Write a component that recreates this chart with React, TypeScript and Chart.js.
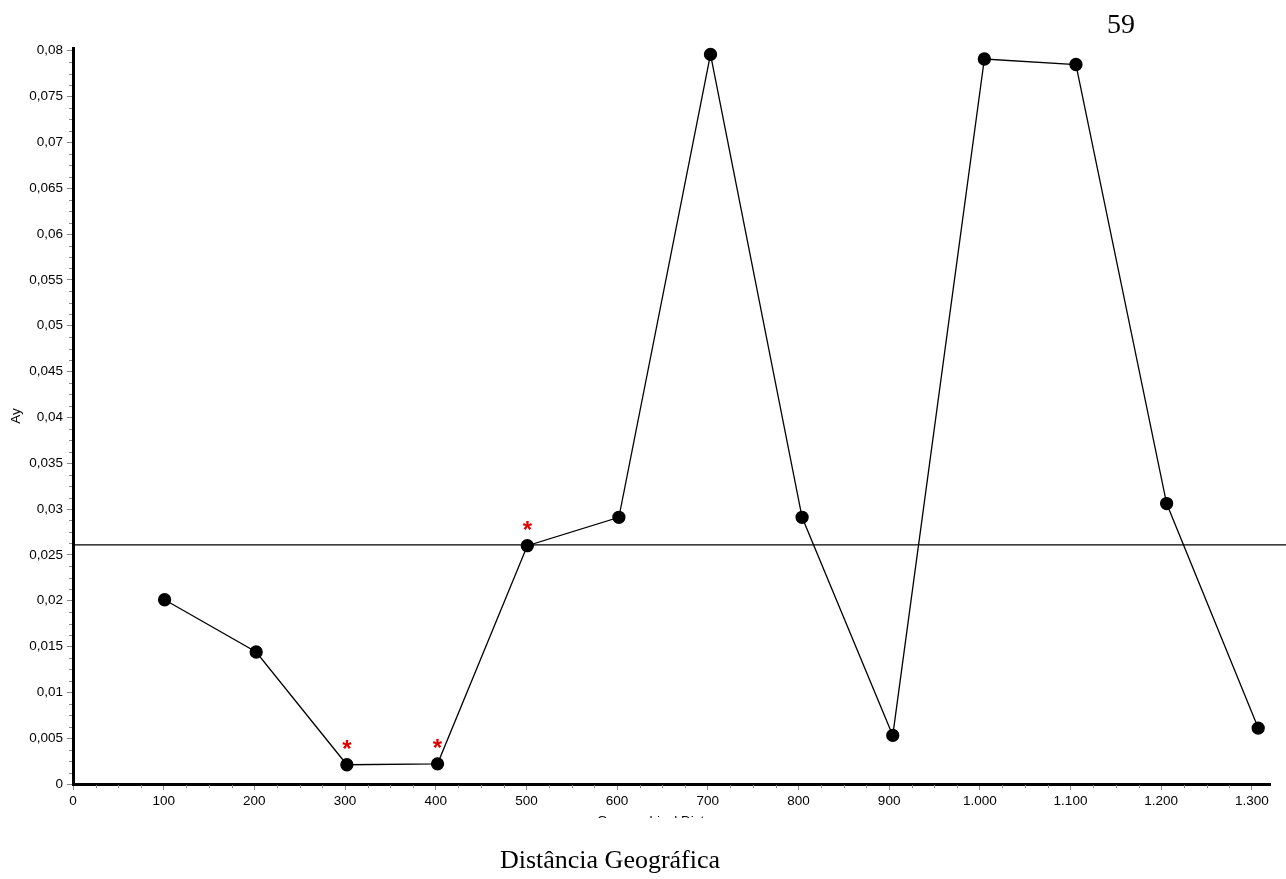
import React, { useEffect, useRef } from "react";
import { Chart, registerables } from "chart.js";

Chart.register(...registerables);

// Data
const distances = [101, 202, 302, 402, 501, 602, 703, 804, 904, 1005, 1106, 1206, 1307];
const ayValues = [0.0201, 0.0144, 0.0021, 0.0022, 0.026, 0.0291, 0.0796, 0.0291, 0.0053, 0.0791, 0.0785, 0.0306, 0.0061];
const significant = [false, false, true, true, true, false, false, false, false, false, false, false, false];
const expectedAy = 0.0261;

const xTickValues = [0, 100, 200, 300, 400, 500, 600, 700, 800, 900, 1000, 1100, 1200, 1300];
const xTickLabels = ["0", "100", "200", "300", "400", "500", "600", "700", "800", "900", "1.000", "1.100", "1.200", "1.300"];
const yTickValues = [0, 0.005, 0.01, 0.015, 0.02, 0.025, 0.03, 0.035, 0.04, 0.045, 0.05, 0.055, 0.06, 0.065, 0.07, 0.075, 0.08];
const yTickLabels = ["0", "0,005", "0,01", "0,015", "0,02", "0,025", "0,03", "0,035", "0,04", "0,045", "0,05", "0,055", "0,06", "0,065", "0,07", "0,075", "0,08"];
const xMinorStep = 25;
const yMinorStep = 0.00125;

const yAxisTitle = "Ay";
const xAxisTitle = "Geographical Distance";
const caption = "Distância Geográfica";
const pageNumber = "59";

const SANS = "'Liberation Sans', Arial, sans-serif";
const SERIF = "'Liberation Serif', 'Times New Roman', serif";

const extrasPlugin = {
  id: "extras",
  beforeDatasetsDraw(chart: any) {
    const { ctx, chartArea, scales } = chart;
    const y = scales.y.getPixelForValue(expectedAy);
    ctx.save();
    ctx.strokeStyle = "#000";
    ctx.lineWidth = 1.3;
    ctx.beginPath();
    ctx.moveTo(chartArea.left, y);
    ctx.lineTo(chart.width, y);
    ctx.stroke();
    ctx.restore();
  },
  afterDraw(chart: any) {
    const { ctx, chartArea, scales } = chart;
    const xs = scales.x;
    const ys = scales.y;
    ctx.save();
    // minor ticks
    ctx.strokeStyle = "#888";
    ctx.lineWidth = 1;
    ctx.beginPath();
    for (let v = 0; v <= xs.max + 0.001; v += xMinorStep) {
      if (Math.abs(v % 100) < 0.001) continue;
      const px = Math.round(xs.getPixelForValue(v)) + 0.5;
      ctx.moveTo(px, chartArea.bottom + 1);
      ctx.lineTo(px, chartArea.bottom + 4);
    }
    for (let i = 0; i * yMinorStep <= ys.max + 1e-9; i++) {
      if (i % 4 === 0) continue;
      const py = Math.round(ys.getPixelForValue(i * yMinorStep)) + 0.5;
      ctx.moveTo(chartArea.left - 1, py);
      ctx.lineTo(chartArea.left - 4, py);
    }
    ctx.stroke();

    // significance stars
    ctx.fillStyle = "#e00000";
    ctx.font = `bold 24px ${SANS}`;
    ctx.textAlign = "center";
    ctx.textBaseline = "middle";
    for (let i = 0; i < distances.length; i++) {
      if (!significant[i]) continue;
      const px = xs.getPixelForValue(distances[i]);
      const py = ys.getPixelForValue(ayValues[i]);
      ctx.fillText("*", px, py - 14);
    }

    // clipped x axis title
    ctx.save();
    ctx.beginPath();
    ctx.rect(0, 800, 712, 18);
    ctx.clip();
    ctx.fillStyle = "#000";
    ctx.font = `13.5px ${SANS}`;
    ctx.textAlign = "left";
    ctx.textBaseline = "top";
    ctx.fillText(xAxisTitle, 597, 815);
    ctx.restore();

    // caption and page number
    ctx.fillStyle = "#000";
    ctx.font = `26px ${SERIF}`;
    ctx.textAlign = "center";
    ctx.textBaseline = "alphabetic";
    ctx.fillText(caption, 610, 868);
    ctx.font = `28px ${SERIF}`;
    ctx.textAlign = "left";
    ctx.fillText(pageNumber, 1107, 33);
    ctx.restore();
  },
};

export default function App() {
  const canvasRef = useRef<HTMLCanvasElement | null>(null);

  useEffect(() => {
    const canvas = canvasRef.current;
    if (!canvas) return;
    const chart = new Chart(canvas, {
      type: "scatter",
      data: {
        datasets: [
          {
            data: distances.map((d, i) => ({ x: d, y: ayValues[i] })),
            showLine: true,
            borderColor: "#000",
            borderWidth: 1.3,
            backgroundColor: "#000",
            pointBackgroundColor: "#000",
            pointBorderColor: "#000",
            pointRadius: 6,
            pointHoverRadius: 6,
            clip: false,
          },
        ],
      },
      options: {
        responsive: false,
        animation: false,
        devicePixelRatio: 1,
        layout: { padding: { top: 48, right: 16, left: 0, bottom: 0 } },
        plugins: { legend: { display: false }, tooltip: { enabled: false } },
        scales: {
          x: {
            type: "linear",
            min: 0,
            max: 1320,
            afterBuildTicks: (scale: any) => {
              scale.ticks = xTickValues.map((v) => ({ value: v }));
            },
            afterFit: (scale: any) => {
              scale.height = 95;
            },
            grid: { display: true, drawOnChartArea: false, drawTicks: true, tickLength: 6, color: "#888", lineWidth: 1 },
            border: { display: true, color: "#000", width: 3 },
            ticks: {
              autoSkip: false,
              maxRotation: 0,
              padding: 3,
              color: "#000",
              font: { family: SANS, size: 13.5 },
              callback: (_v: any, i: number) => xTickLabels[i],
            },
          },
          y: {
            type: "linear",
            min: 0,
            max: 0.0803,
            afterBuildTicks: (scale: any) => {
              scale.ticks = yTickValues.map((v) => ({ value: v }));
            },
            afterFit: (scale: any) => {
              scale.width = 73;
            },
            grid: { display: true, drawOnChartArea: false, drawTicks: true, tickLength: 6, color: "#888", lineWidth: 1 },
            border: { display: true, color: "#000", width: 3 },
            title: { display: true, text: yAxisTitle, color: "#000", font: { family: SANS, size: 13.5 }, padding: { top: 8, bottom: 4 } },
            ticks: {
              autoSkip: false,
              padding: 4,
              color: "#000",
              font: { family: SANS, size: 13.5 },
              callback: (_v: any, i: number) => yTickLabels[i],
            },
          },
        },
      },
      plugins: [extrasPlugin],
    } as any);
    return () => chart.destroy();
  }, []);

  return (
    <div style={{ position: "absolute", left: 0, top: 0, width: 1286, height: 879, background: "#fff" }}>
      <canvas ref={canvasRef} width={1286} height={879} style={{ display: "block" }} />
    </div>
  );
}
